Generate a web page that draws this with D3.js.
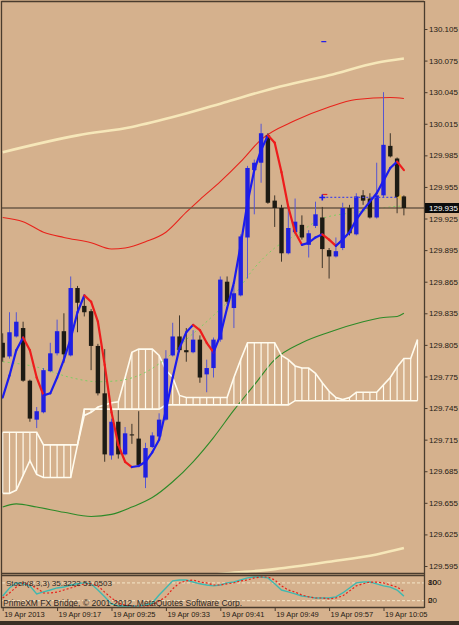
<!DOCTYPE html>
<html>
<head>
<meta charset="utf-8">
<script src="https://cdnjs.cloudflare.com/ajax/libs/d3/7.8.5/d3.min.js"></script>
<style>
  body { margin: 0; background: #d5b18d; }
  svg { display: block; }
</style>
</head>
<body>
<script>

// USDJPY M1, 19 Apr 2013 09:09 - 10:08, one value per bar
const opens = [129.807,129.794,129.813,129.821,129.771,129.734,129.741,129.780,129.797,129.818,
  129.795,129.859,129.842,129.837,129.804,129.759,129.700,129.732,129.701,129.720,
  129.716,129.679,129.708,129.718,129.734,129.795,129.813,129.800,129.798,129.810,
  129.777,129.783,129.810,129.865,129.840,129.852,129.907,129.971,129.978,130.004,
  129.942,129.935,129.892,129.912,129.919,129.900,129.918,129.926,129.895,129.889,
  129.897,129.935,129.910,129.947,129.944,129.926,129.947,129.994,129.982,129.946];
const highs = [129.816,129.836,129.836,129.827,129.772,129.746,129.783,129.807,129.829,129.835,
  129.870,129.861,129.850,129.839,129.806,129.801,129.735,129.743,129.727,129.730,
  129.742,129.712,129.722,129.740,129.800,129.826,129.833,129.821,129.819,129.814,
  129.791,129.812,129.870,129.870,129.862,129.910,129.975,129.981,130.015,130.006,
  129.947,129.938,129.938,129.944,129.928,129.914,129.941,129.936,129.897,129.907,
  129.940,129.938,129.949,129.952,129.949,129.978,130.045,130.006,129.983,129.947];
const lows = [129.789,129.792,129.812,129.770,129.732,129.726,129.740,129.779,129.795,129.788,
  129.794,129.817,129.832,129.781,129.757,129.694,129.696,129.697,129.700,129.711,
  129.690,129.669,129.707,129.717,129.733,129.794,129.798,129.789,129.797,129.769,
  129.760,129.774,129.808,129.844,129.821,129.851,129.868,129.929,129.959,129.939,
  129.917,129.884,129.891,129.910,129.905,129.888,129.916,129.878,129.868,129.888,
  129.895,129.909,129.909,129.938,129.925,129.925,129.945,129.983,129.930,129.928];
const closes = [129.793,129.817,129.827,129.771,129.735,129.742,129.781,129.797,129.818,129.796,
  129.859,129.845,129.836,129.804,129.759,129.701,129.732,129.701,129.721,129.719,
  129.691,129.707,129.719,129.734,129.792,129.813,129.800,129.798,129.810,129.774,
  129.783,129.810,129.867,129.846,129.854,129.908,129.973,129.978,130.006,129.940,
  129.935,129.892,129.916,129.922,129.907,129.911,129.929,129.896,129.889,129.894,
  129.935,129.911,129.946,129.942,129.926,129.947,129.995,129.984,129.945,129.935];

// fast moving average, coloured by slope
const fastMa = [129.755,129.776,129.800,129.812,129.800,129.774,129.757,129.759,129.774,129.791,
  129.811,129.836,129.852,129.846,129.827,129.786,129.741,129.710,129.694,129.689,
  129.690,129.694,129.703,129.715,129.743,129.774,129.802,129.817,129.824,129.819,
  129.807,129.798,129.814,129.840,129.864,129.900,129.940,129.971,129.990,130.004,
  129.997,129.969,129.936,129.912,129.900,129.902,129.907,129.910,129.905,129.899,
  129.905,129.912,129.924,129.933,129.941,129.949,129.961,129.973,129.979,129.971];

// band lines, read at some bars
const creamUpperBars = [0, 11, 19, 26, 33, 40, 48, 55, 59];
const creamUpper = [129.988, 130.004, 130.012, 130.023, 130.036, 130.049, 130.061, 130.073, 130.077];
const creamLowerBars = [28, 33, 40, 48, 55, 59];
const creamLower = [129.585, 129.588, 129.592, 129.599, 129.606, 129.612];
const redBandBars = [0, 3, 6, 9, 13, 16, 18, 21, 24, 27, 29, 32, 35, 38, 43, 48, 52, 57, 59];
const redBand = [129.926, 129.922, 129.912, 129.907, 129.902, 129.896, 129.897, 129.903, 129.912, 129.931,
  129.943, 129.960, 129.979, 130.000, 130.018, 130.031, 130.038, 130.040, 130.039];
const greenBandBars = [0, 2, 5, 9, 13, 16, 19, 22, 25, 28, 31, 34, 37, 40, 44, 48, 53, 56, 58, 59];
const greenBand = [129.651, 129.654, 129.651, 129.646, 129.642, 129.644, 129.651, 129.660, 129.675, 129.694,
  129.717, 129.743, 129.767, 129.791, 129.807, 129.817, 129.827, 129.831, 129.832, 129.835];
const midDotBars = [0, 5, 10, 14, 17, 21, 24, 27, 31, 34, 37, 40, 43, 47, 52, 57, 59];
const midDot = [129.789, 129.784, 129.774, 129.770, 129.771, 129.779, 129.792, 129.810, 129.833, 129.852,
  129.878, 129.897, 129.909, 129.925, 129.931, 129.936, 129.937];

// ichimoku cloud, shifted two bars past the last candle
const spanA = [129.664,129.664,129.667,129.681,129.695,129.682,129.679,129.679,129.679,129.679,
  129.679,129.710,129.738,129.741,129.746,129.748,129.750,129.751,129.774,129.798,
  129.801,129.801,129.801,129.795,129.781,129.774,129.757,129.755,129.755,129.755,
  129.755,129.755,129.755,129.755,129.774,129.791,129.807,129.807,129.807,129.807,
  129.807,129.795,129.791,129.785,129.783,129.783,129.778,129.769,129.761,129.755,
  129.753,129.755,129.760,129.760,129.760,129.760,129.767,129.774,129.784,129.792,
  129.792,129.810];
const spanB = [129.722,129.722,129.722,129.722,129.722,129.722,129.710,129.710,129.710,129.710,
  129.710,129.710,129.744,129.744,129.744,129.744,129.744,129.744,129.744,129.744,
  129.744,129.744,129.744,129.744,129.748,129.748,129.748,129.748,129.748,129.748,
  129.748,129.748,129.748,129.748,129.748,129.748,129.748,129.748,129.748,129.748,
  129.748,129.748,129.748,129.752,129.752,129.752,129.752,129.752,129.752,129.752,
  129.752,129.752,129.752,129.752,129.752,129.752,129.752,129.752,129.752,129.752,
  129.752,129.752];

// stochastic (8,3,3)
const stochMain = [36,63,80,77,70,43,50,56,63,66,
  73,77,80,77,56,33,9,2,2,2,
  2,5,12,39,63,87,90,90,83,77,
  73,70,73,80,83,90,97,100,100,97,
  77,56,50,43,36,33,29,29,29,33,
  46,63,80,83,83,77,70,66,56,35.3222];
const stochSignal = [29,46,66,80,73,63,46,46,49,56,
  63,70,77,77,70,49,29,12,5,2,
  2,2,5,19,33,60,80,87,90,83,
  80,73,73,77,80,87,90,97,100,100,
  90,70,56,49,39,33,29,29,26,29,
  36,53,70,77,83,83,80,73,66,51.0503];

// trade objects
const tradeLevel = 129.945, tradeFrom = 47, tradeTo = 58;
const markerPrice = 130.093;
const lastPrice = 129.935;

// axis labels
const priceTicks = [130.105, 130.075, 130.045, 130.015, 129.985, 129.955, 129.925, 129.895, 129.865,
  129.835, 129.805, 129.775, 129.745, 129.715, 129.685, 129.655, 129.625, 129.595];
const timeBars = [0, 8, 16, 24, 32, 40, 48, 56];
const timeLabels = ["19 Apr 2013", "19 Apr 09:17", "19 Apr 09:25", "19 Apr 09:33",
  "19 Apr 09:41", "19 Apr 09:49", "19 Apr 09:57", "19 Apr 10:05"];
const stochLevels = [80, 20];
const stochLabels = ["100", "80", "20", "0"];

// window layout
const width = 459, height = 625;
const plot = { left: 2, right: 424, top: 2, bottom: 573 };
const sub = { top: 576, bottom: 608 };
const bg = "#d5b18d";
const frame = "#4a3c2e";
const font = "'Liberation Sans', Arial, sans-serif";

// scales
const x = d3.scaleLinear().domain([0, 59]).range([2.7, 403.9]);
const y = d3.scaleLinear().domain([129.595, 130.105]).range([566, 29]);
const ys = d3.scaleLinear().domain([0, 100]).range([606.6, 577]);

const svg = d3.select("body")
  .append("svg")
    .attr("width", width)
    .attr("height", height);

svg.append("rect").attr("width", width).attr("height", height).attr("fill", bg);

const defs = svg.append("defs");
defs.append("clipPath").attr("id", "clip-main")
  .append("rect")
    .attr("x", plot.left).attr("y", plot.top)
    .attr("width", plot.right - plot.left).attr("height", plot.bottom - plot.top);
defs.append("clipPath").attr("id", "clip-sub")
  .append("rect")
    .attr("x", plot.left).attr("y", sub.top)
    .attr("width", plot.right - plot.left).attr("height", sub.bottom - sub.top);

const main = svg.append("g").attr("clip-path", "url(#clip-main)");

// line through values read at some bars
const sparseLine = (bars, vals) => d3.line()
  .curve(d3.curveMonotoneX)
  .x((d, k) => x(bars[k]))
  .y(d => y(d))(vals);

// bands
main.append("path").attr("d", sparseLine(creamUpperBars, creamUpper))
  .attr("fill", "none").attr("stroke", "#f6e7b9").attr("stroke-width", 2.6);
main.append("path").attr("d", sparseLine(creamLowerBars, creamLower))
  .attr("fill", "none").attr("stroke", "#f6e7b9").attr("stroke-width", 2.6);
main.append("path").attr("d", sparseLine(redBandBars, redBand))
  .attr("fill", "none").attr("stroke", "#e8231b").attr("stroke-width", 1.1);
main.append("path").attr("d", sparseLine(greenBandBars, greenBand))
  .attr("fill", "none").attr("stroke", "#2d8a28").attr("stroke-width", 1.1);

// cloud hatch and outline
const cloudColor = "#fffbee";
main.selectAll(".hatch")
  .data(spanA)
  .enter()
  .append("line")
    .attr("x1", (d, i) => x(i)).attr("x2", (d, i) => x(i))
    .attr("y1", d => y(d))
    .attr("y2", (d, i) => y(spanB[i]))
    .attr("stroke", cloudColor)
    .attr("stroke-width", 1.2);

const spanLine = d3.line().x((d, i) => x(i)).y(d => y(d));
main.append("path").attr("d", spanLine(spanA))
  .attr("fill", "none").attr("stroke", cloudColor).attr("stroke-width", 1.6);
main.append("path").attr("d", spanLine(spanB))
  .attr("fill", "none").attr("stroke", cloudColor).attr("stroke-width", 1.6);

// middle dotted line
main.append("path").attr("d", sparseLine(midDotBars, midDot))
  .attr("fill", "none").attr("stroke", "#7ccf62").attr("stroke-width", 1)
  .attr("stroke-dasharray", "2,3");

// current price line
main.append("line")
  .attr("x1", plot.left).attr("x2", plot.right)
  .attr("y1", y(lastPrice)).attr("y2", y(lastPrice))
  .attr("stroke", "#6b5a47").attr("stroke-width", 1.6);

// candles
const candles = main.selectAll(".candle")
  .data(opens.map((o, i) => ({ i, o, h: highs[i], l: lows[i], c: closes[i] })))
  .enter()
  .append("g");

candles.append("line")
  .attr("x1", d => x(d.i)).attr("x2", d => x(d.i))
  .attr("y1", d => y(d.h)).attr("y2", d => y(d.l))
  .attr("stroke", d => d.c >= d.o ? "#5656d2" : "#3e362b")
  .attr("stroke-width", 1);

candles.append("rect")
  .attr("x", d => x(d.i) - 2.2)
  .attr("width", 4.4)
  .attr("y", d => y(Math.max(d.o, d.c)))
  .attr("height", d => Math.max(1, Math.abs(y(d.o) - y(d.c))))
  .attr("fill", d => d.c >= d.o ? "#2020e0" : "#1d1b14");

// fast ma: blue while rising, red while falling
main.selectAll(".ma")
  .data(fastMa.slice(1))
  .enter()
  .append("line")
    .attr("x1", (d, i) => x(i)).attr("y1", (d, i) => y(fastMa[i]))
    .attr("x2", (d, i) => x(i + 1)).attr("y2", d => y(d))
    .attr("stroke", (d, i) => d < fastMa[i] ? "#ee1c1c" : "#1c1cee")
    .attr("stroke-width", 2.2)
    .attr("stroke-linecap", "round");

// trade level and markers
main.append("line")
  .attr("x1", x(tradeFrom)).attr("x2", x(tradeTo) + 1)
  .attr("y1", y(tradeLevel)).attr("y2", y(tradeLevel))
  .attr("stroke", "#4a4ae0").attr("stroke-width", 1.3)
  .attr("stroke-dasharray", "2,2");
main.append("line")
  .attr("x1", x(tradeFrom)).attr("x2", x(tradeFrom) + 5)
  .attr("y1", y(tradeLevel) - 3).attr("y2", y(tradeLevel) - 3)
  .attr("stroke", "#e8231b").attr("stroke-width", 1.2);
main.append("path")
  .attr("d", `M${x(tradeFrom) - 3},${y(tradeLevel)}h6M${x(tradeFrom)},${y(tradeLevel) - 3}v6`)
  .attr("stroke", "#1c1cee").attr("stroke-width", 1.6);
main.append("path")
  .attr("d", `M${x(tradeTo) + 4},${y(tradeLevel) - 3}l-4,3l4,3z`)
  .attr("fill", "#e6b64a");
main.append("line")
  .attr("x1", x(tradeFrom) - 1).attr("x2", x(tradeFrom) + 4)
  .attr("y1", y(markerPrice)).attr("y2", y(markerPrice))
  .attr("stroke", "#1c1cee").attr("stroke-width", 1.2);

// stochastic subwindow
const subG = svg.append("g").attr("clip-path", "url(#clip-sub)");

subG.selectAll(".level")
  .data(stochLevels)
  .enter()
  .append("line")
    .attr("x1", plot.left).attr("x2", plot.right)
    .attr("y1", d => ys(d)).attr("y2", d => ys(d))
    .attr("stroke", "#f4e6c9").attr("stroke-width", 1)
    .attr("stroke-dasharray", "3,2");

const stochLine = d3.line().x((d, i) => x(i)).y(d => ys(d));
subG.append("path").attr("d", stochLine(stochMain))
  .attr("fill", "none").attr("stroke", "#3fb8b0").attr("stroke-width", 1.4);
subG.append("path").attr("d", stochLine(stochSignal))
  .attr("fill", "none").attr("stroke", "#e8231b").attr("stroke-width", 1.2)
  .attr("stroke-dasharray", "2,2");

svg.append("text")
  .attr("x", 6).attr("y", 586)
  .attr("font-family", font).attr("font-size", 8).attr("fill", "#2c261e")
  .text(`Stoch(8,3,3) ${stochMain[59].toFixed(4)} ${stochSignal[59].toFixed(4)}`);

svg.append("text")
  .attr("x", 3).attr("y", 606)
  .attr("font-family", font).attr("font-size", 8.5).attr("fill", "#2c261e")
  .text("PrimeXM FX Bridge, \u00a9 2001-2012, MetaQuotes Software Corp.");

// frame lines
const frameLines = [
  [plot.left - 0.5, 1.5, plot.right, 1.5],
  [1.5, 1, 1.5, sub.bottom],
  [plot.right + 0.5, 1, plot.right + 0.5, sub.bottom],
  [1, plot.bottom + 0.5, plot.right, plot.bottom + 0.5],
  [1, sub.top - 0.5, plot.right, sub.top - 0.5],
  [1, sub.bottom - 0.5, plot.right, sub.bottom - 0.5]
];
svg.selectAll(".frame")
  .data(frameLines)
  .enter()
  .append("line")
    .attr("x1", d => d[0]).attr("y1", d => d[1])
    .attr("x2", d => d[2]).attr("y2", d => d[3])
    .attr("stroke", frame).attr("stroke-width", 1.3);

svg.append("rect")
  .attr("x", 0).attr("y", 621).attr("width", width).attr("height", 4)
  .attr("fill", "#3a2f24");

// price axis
const priceAxis = svg.append("g")
  .attr("transform", `translate(${plot.right + 0.5}, 0)`)
  .call(d3.axisRight(y).tickValues(priceTicks).tickFormat(d3.format(".3f"))
    .tickSize(3).tickPadding(1.5));
priceAxis.select(".domain").remove();
priceAxis.selectAll("line").attr("stroke", frame);
priceAxis.selectAll("text")
  .attr("font-family", font).attr("font-size", 8).attr("fill", "#1e1a14");

// last price box
svg.append("rect")
  .attr("x", plot.right + 1).attr("y", y(lastPrice) - 5)
  .attr("width", width - plot.right - 1).attr("height", 10)
  .attr("fill", "#0c0c0c");
svg.append("text")
  .attr("x", plot.right + 5).attr("y", y(lastPrice) + 3)
  .attr("font-family", font).attr("font-size", 8).attr("fill", "#ffffff")
  .text(lastPrice.toFixed(3));

// stochastic scale labels
svg.selectAll(".slabel")
  .data(stochLabels)
  .enter()
  .append("text")
    .attr("x", plot.right + 4)
    .attr("y", d => +d >= 50 ? 585 : 603)
    .attr("font-family", font).attr("font-size", 8).attr("fill", "#1e1a14")
    .text(d => d);

// time axis
const timeAxis = svg.append("g")
  .attr("transform", `translate(0, ${sub.bottom})`)
  .call(d3.axisBottom(x).tickValues(timeBars).tickFormat((d, k) => timeLabels[k])
    .tickSize(3).tickPadding(1));
timeAxis.select(".domain").remove();
timeAxis.selectAll("line").attr("stroke", frame);
timeAxis.selectAll("text")
  .attr("text-anchor", "start")
  .attr("dx", 1)
  .attr("font-family", font).attr("font-size", 7.5).attr("fill", "#1e1a14");

</script>
</body>
</html>
